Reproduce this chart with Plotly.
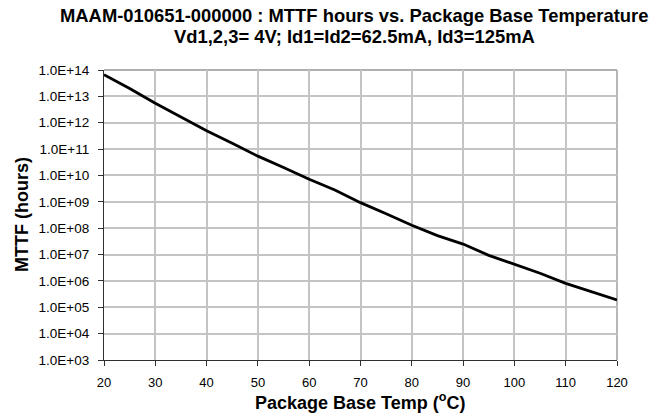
import plotly.graph_objects as go

temps = [20, 25, 30, 35, 40, 45, 50, 55, 60, 65, 70, 75, 80, 85, 90, 95, 100, 105, 110, 115, 120]
mttf_hours = [6.6e13, 2.0e13, 5.5e12, 1.6e12, 5.0e11, 1.66e11, 5.4e10, 2.0e10, 7.2e9, 2.8e9,
              9.3e8, 3.5e8, 1.29e8, 5.2e7, 2.5e7, 9.3e6, 4.4e6, 1.95e6, 8.1e5, 4.0e5, 1.9e5]
y_tick_vals = [1e3, 1e4, 1e5, 1e6, 1e7, 1e8, 1e9, 1e10, 1e11, 1e12, 1e13, 1e14]
y_tick_text = ["1.0E+03", "1.0E+04", "1.0E+05", "1.0E+06", "1.0E+07", "1.0E+08",
               "1.0E+09", "1.0E+10", "1.0E+11", "1.0E+12", "1.0E+13", "1.0E+14"]
x_tick_vals = [20, 30, 40, 50, 60, 70, 80, 90, 100, 110, 120]

title_line1 = "MAAM-010651-000000 : MTTF hours vs. Package Base Temperature"
title_line2 = "Vd1,2,3= 4V; Id1=Id2=62.5mA, Id3=125mA"
x_title = "Package Base Temp (<sup>o</sup>C)"
y_title = "MTTF (hours)"

FONT = "Liberation Sans, Arial, sans-serif"
W, H = 660, 419
L, R, T, B = 104, 43, 70, 59
PW, PH = W - L - R, H - T - B


def px(xp):
    return (xp - L) / PW


def py(yp):
    return (H - B - yp) / PH


fig = go.Figure()
fig.add_trace(go.Scatter(x=temps, y=mttf_hours, mode="lines",
                         line=dict(color="black", width=2.8), showlegend=False,
                         hoverinfo="x+y"))

fig.update_layout(
    width=W, height=H,
    margin=dict(l=L, r=R, t=T, b=B, autoexpand=False),
    paper_bgcolor="white", plot_bgcolor="white",
    font=dict(family=FONT, color="black"),
    showlegend=False,
)

fig.update_xaxes(
    range=[20, 120], tickvals=x_tick_vals, automargin=False,
    showgrid=True, gridcolor="#c4c4c4", gridwidth=1.8,
    showline=True, linecolor="#303030", linewidth=1.2, mirror=False,
    ticks="outside", ticklen=5, tickcolor="#303030", tickwidth=1.2,
    ticklabelstandoff=5,
    tickfont=dict(size=13, family=FONT, color="black"),
    zeroline=False,
)
fig.update_yaxes(
    type="log", range=[3, 14], tickvals=y_tick_vals, ticktext=y_tick_text, automargin=False,
    showgrid=True, gridcolor="#c4c4c4", gridwidth=1.8,
    showline=True, linecolor="#303030", linewidth=1.2,
    ticks="outside", ticklen=5, tickcolor="#303030", tickwidth=1.2,
    ticklabelstandoff=6,
    tickfont=dict(size=13.5, family=FONT, color="black"),
    zeroline=False,
)

# right and top borders in grid grey
fig.add_shape(type="line", xref="paper", yref="paper", x0=1, x1=1, y0=0, y1=1,
              line=dict(color="#b0b0b0", width=1.8), layer="below")
fig.add_shape(type="line", xref="paper", yref="paper", x0=0, x1=1, y0=1, y1=1,
              line=dict(color="#b0b0b0", width=1.8), layer="below")

ann = [
    dict(text="<b>%s</b>" % title_line1, x=px(354), y=py(15.5), size=18.4, angle=0),
    dict(text="<b>%s</b>" % title_line2, x=px(354), y=py(36.5), size=18.4, angle=0),
    dict(text="<b>%s</b>" % x_title, x=px(360), y=py(401), size=18, angle=0),
    dict(text="<b>%s</b>" % y_title, x=px(22), y=py(215), size=18, angle=-90),
]
for a in ann:
    fig.add_annotation(text=a["text"], x=a["x"], y=a["y"], xref="paper", yref="paper",
                       xanchor="center", yanchor="middle", showarrow=False,
                       textangle=a["angle"],
                       font=dict(size=a["size"], family=FONT, color="black"))

fig.write_html("out.html", config={"displayModeBar": False},
               post_script="document.body.style.margin='0';document.body.style.overflow='hidden';")
